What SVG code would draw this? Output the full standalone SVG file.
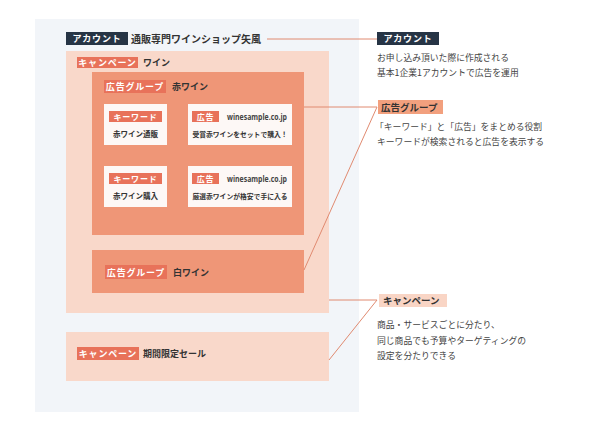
<svg xmlns="http://www.w3.org/2000/svg" width="600" height="439" viewBox="0 0 600 439">
<style>
text{font-family:"Noto Sans CJK JP","Noto Sans",sans-serif;}
.lbl{font-size:9px;font-weight:bold;fill:#fff;text-anchor:middle;letter-spacing:0.8px;}
.name{font-size:9px;font-weight:bold;fill:#333;}
.desc{font-size:8.8px;fill:#444;}
.red{fill:#e8725a;}
.card{fill:#fdf8f6;}
.url{font-size:8px;font-weight:bold;fill:#444;font-family:"Open Sans","Noto Sans",sans-serif;}
.small{font-size:6.8px;font-weight:bold;fill:#333;text-anchor:middle;}
.conn{stroke:#e08a70;stroke-width:1;fill:none;}
</style>
<rect width="600" height="439" fill="#fff"/>
<rect x="35" y="19" width="324" height="393" fill="#f2f5f9"/>
<g id="account">
<rect x="66" y="32" width="62" height="13" fill="#263445"/>
<text x="97" y="42" class="lbl">アカウント</text>
<text x="131" y="42.5" class="name" style="font-size:10px">通販専門ワインショップ矢風</text>
</g>
<g id="campaign-wine">
<rect x="66" y="51" width="263" height="262" fill="#f9d8ca"/>
<rect x="77" y="57" width="61" height="11" class="red"/>
<text x="107.5" y="66" class="lbl">キャンペーン</text>
<text x="143" y="66" class="name">ワイン</text>
</g>
<g id="adgroup-red">
<rect x="92" y="72" width="212" height="163" fill="#ef9677"/>
<rect x="104" y="80" width="62" height="13" class="red"/>
<text x="135" y="90" class="lbl">広告グループ</text>
<text x="172" y="90" class="name">赤ワイン</text>
</g>
<g id="kw1">
<rect x="104" y="104" width="63" height="41" class="card"/>
<rect x="109" y="111" width="53" height="11" class="red"/>
<text x="135.5" y="119.5" class="lbl" style="font-size:8px">キーワード</text>
<text x="135.5" y="137" class="small" style="font-size:7.5px">赤ワイン通販</text>
</g>
<g id="ad1">
<rect x="188" y="104" width="104" height="41" class="card"/>
<rect x="192" y="111" width="27" height="11" class="red"/>
<text x="205.5" y="119.5" class="lbl" style="font-size:8px">広告</text>
<text x="227" y="120" class="url" textLength="60" lengthAdjust="spacingAndGlyphs">winesample.co.jp</text>
<text x="240" y="137" class="small">受賞赤ワインをセットで購入！</text>
</g>
<g id="kw2">
<rect x="104" y="166" width="63" height="41" class="card"/>
<rect x="109" y="173" width="53" height="11" class="red"/>
<text x="135.5" y="181.5" class="lbl" style="font-size:8px">キーワード</text>
<text x="135.5" y="199" class="small" style="font-size:7.5px">赤ワイン購入</text>
</g>
<g id="ad2">
<rect x="188" y="166" width="104" height="41" class="card"/>
<rect x="192" y="173" width="27" height="11" class="red"/>
<text x="205.5" y="181.5" class="lbl" style="font-size:8px">広告</text>
<text x="227" y="182" class="url" textLength="60" lengthAdjust="spacingAndGlyphs">winesample.co.jp</text>
<text x="240" y="199" class="small">厳選赤ワインが格安で手に入る</text>
</g>
<g id="adgroup-white">
<rect x="92" y="250" width="212" height="43" fill="#ef9677"/>
<rect x="105" y="265" width="62" height="14" class="red"/>
<text x="136" y="275.5" class="lbl">広告グループ</text>
<text x="173" y="275.5" class="name">白ワイン</text>
</g>
<g id="campaign-sale">
<rect x="66" y="332" width="263" height="49" fill="#f9d8ca"/>
<rect x="77" y="347" width="62" height="13" class="red"/>
<text x="108" y="357" class="lbl">キャンペーン</text>
<text x="143" y="357" class="name">期間限定セール</text>
</g>
<g id="connectors">
<line x1="267" y1="39" x2="377" y2="39" class="conn"/>
<polyline points="304,107 377,107 304,270" class="conn"/>
<polyline points="329,300 377,300 329,360" class="conn"/>
</g>
<g id="note-account">
<rect x="377" y="32" width="62" height="13" fill="#263445"/>
<text x="408" y="42" class="lbl">アカウント</text>
<text x="377" y="61" class="desc">お申し込み頂いた際に作成される</text>
<text x="377" y="76" class="desc">基本1企業1アカウントで広告を運用</text>
</g>
<g id="note-adgroup">
<rect x="378" y="100" width="65" height="14" fill="#f2a07e"/>
<text x="381" y="110.5" class="name" style="font-size:9.5px">広告グループ</text>
<text x="375" y="130" class="desc">「キーワード」と「広告」をまとめる役割</text>
<text x="377" y="145" class="desc">キーワードが検索されると広告を表示する</text>
</g>
<g id="note-campaign">
<rect x="379" y="294" width="68" height="13" fill="#f9d5c5"/>
<text x="383" y="304" class="name" style="font-size:9.5px">キャンペーン</text>
<text x="377" y="328" class="desc">商品・サービスごとに分たり、</text>
<text x="377" y="344" class="desc">同じ商品でも予算やターゲティングの</text>
<text x="377" y="359" class="desc">設定を分たりできる</text>
</g>
</svg>
